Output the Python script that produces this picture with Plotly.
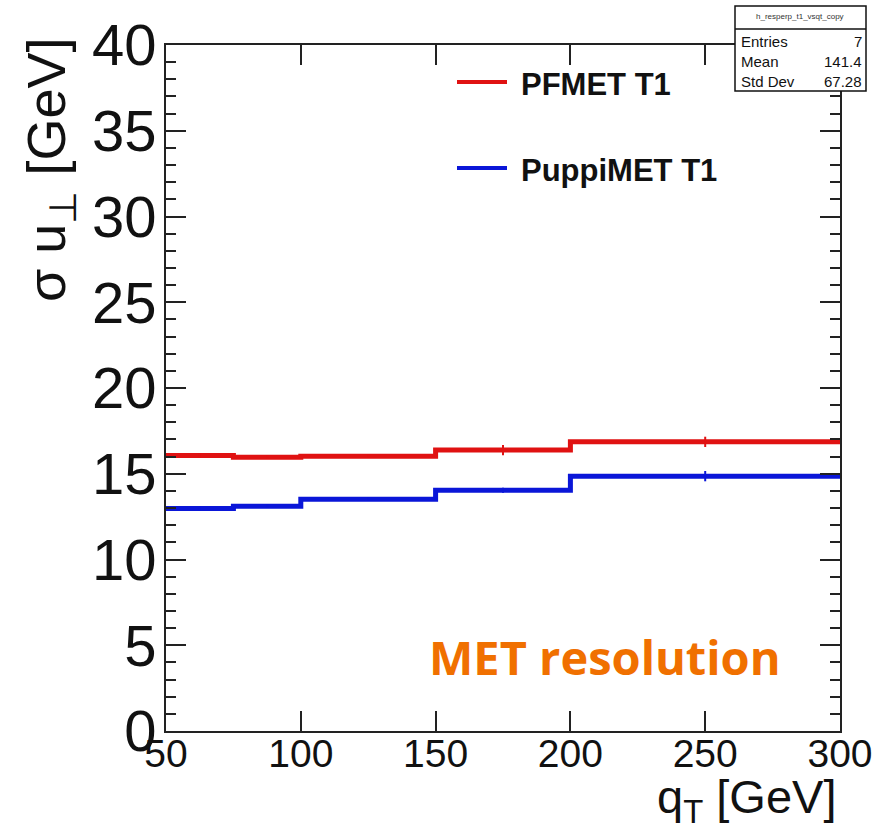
import plotly.graph_objects as go

# q_T bin edges [GeV] and per-bin resolution of u_perp [GeV]
edges = [50, 75, 100, 150, 200, 300]
pfmet_t1 = [16.06, 15.96, 16.02, 16.38, 16.86]
puppimet_t1 = [12.97, 13.11, 13.52, 14.04, 14.86]
pfmet_err = [0.1, 0.1, 0.1, 0.3, 0.3]
puppimet_err = [0.1, 0.1, 0.1, 0.15, 0.3]

series_names = ["PFMET T1", "PuppiMET T1"]
series_colors = ["#e01212", "#0a16d8"]

stats_title = "h_resperp_t1_vsqt_copy"
stats_labels = ["Entries", "Mean", "Std Dev"]
stats_values = ["7", "141.4", "67.28"]

x_ticks = [50, 100, 150, 200, 250, 300]
y_ticks = [0, 5, 10, 15, 20, 25, 30, 35, 40]

# canvas geometry (pixels) and helpers to convert to paper coordinates
W, H = 876, 834
L, R, T, B = 166, 36, 45, 103
PW, PH = W - L - R, H - T - B


def px(x):
    return (x - L) / PW


def py(y):
    return (H - B - y) / PH


FONT = "Liberation Sans, Arial, Helvetica, sans-serif"
AXIS_COL = "#222222"

fig = go.Figure()

centers = [(a + b) / 2 for a, b in zip(edges[:-1], edges[1:])]
for vals, errs, color in zip([pfmet_t1, puppimet_t1], [pfmet_err, puppimet_err], series_colors):
    fig.add_trace(go.Scatter(
        x=edges, y=vals + [vals[-1]], mode="lines",
        line=dict(color=color, width=5, shape="hv"),
        showlegend=False, hoverinfo="skip",
    ))
    fig.add_trace(go.Scatter(
        x=centers, y=vals, mode="markers",
        marker=dict(size=1, color=color),
        error_y=dict(type="data", array=errs, width=0, thickness=2, color=color),
        showlegend=False, hoverinfo="skip",
    ))

fig.update_xaxes(
    range=[50, 300], tickvals=x_ticks, ticks="inside", ticklen=20, tickwidth=2,
    tickcolor=AXIS_COL, showline=True, linewidth=2, linecolor=AXIS_COL,
    mirror="ticks", showgrid=False, zeroline=False, automargin=False,
    tickfont=dict(family=FONT, size=39, color="#111111"), ticklabelstandoff=-13,
)
fig.update_yaxes(
    range=[0, 40], tickvals=y_ticks, ticks="inside", ticklen=20, tickwidth=2,
    tickcolor=AXIS_COL, showline=True, linewidth=2, linecolor=AXIS_COL,
    mirror="ticks", showgrid=False, zeroline=False, automargin=False,
    minor=dict(dtick=1, ticks="inside", ticklen=10, tickwidth=2, tickcolor=AXIS_COL, showgrid=False),
    tickfont=dict(family=FONT, size=58, color="#111111"), ticklabelstandoff=-4,
)

shapes = []
annotations = []

# legend
for i, (name, color) in enumerate(zip(series_names, series_colors)):
    yy = 82 + i * 86
    shapes.append(dict(type="line", xref="paper", yref="paper",
                       x0=px(457), x1=px(507), y0=py(yy), y1=py(yy),
                       line=dict(color=color, width=4)))
    annotations.append(dict(text=name, xref="paper", yref="paper",
                            x=px(519), y=py(yy + 2), xanchor="left", yanchor="middle",
                            showarrow=False,
                            font=dict(family=FONT, size=31, color="#111111", weight="bold")))

# statistics box
shapes.append(dict(type="rect", xref="paper", yref="paper",
                   x0=px(735), x1=px(866), y0=py(91), y1=py(6),
                   fillcolor="white", line=dict(color="#111111", width=1.5), layer="above"))
shapes.append(dict(type="line", xref="paper", yref="paper",
                   x0=px(735), x1=px(866), y0=py(29), y1=py(29),
                   line=dict(color="#111111", width=1.5), layer="above"))
annotations.append(dict(text=stats_title, xref="paper", yref="paper",
                        x=px(800), y=py(17), xanchor="center", yanchor="middle",
                        showarrow=False, font=dict(family=FONT, size=8, color="#333333")))
for i, (lab, val) in enumerate(zip(stats_labels, stats_values)):
    yy = 41 + i * 20
    annotations.append(dict(text=lab, xref="paper", yref="paper",
                            x=px(739), y=py(yy), xanchor="left", yanchor="middle",
                            showarrow=False, font=dict(family=FONT, size=15, color="#111111")))
    annotations.append(dict(text=val, xref="paper", yref="paper",
                            x=px(864), y=py(yy), xanchor="right", yanchor="middle",
                            showarrow=False, font=dict(family=FONT, size=15, color="#111111")))

# axis titles
annotations.append(dict(text="σ u<sub>⊥</sub> [GeV]", xref="paper", yref="paper",
                        x=px(50), y=py(36), xanchor="center", yanchor="top",
                        textangle=-90, showarrow=False,
                        font=dict(family=FONT, size=54, color="#111111")))
annotations.append(dict(text="q<sub>T</sub> [GeV]", xref="paper", yref="paper",
                        x=px(838), y=py(768), xanchor="right", yanchor="top",
                        showarrow=False,
                        font=dict(family=FONT, size=47, color="#111111")))

# caption
annotations.append(dict(text="MET resolution", xref="paper", yref="paper",
                        x=px(605), y=py(657), xanchor="center", yanchor="middle",
                        showarrow=False,
                        font=dict(family="Open Sans, sans-serif", size=47,
                                  color="#f07000", weight="bold")))

fig.update_layout(
    width=W, height=H,
    margin=dict(l=L, r=R, t=T, b=B),
    paper_bgcolor="white", plot_bgcolor="white",
    shapes=shapes, annotations=annotations,
    showlegend=False,
)

fig.write_html("out.html")
